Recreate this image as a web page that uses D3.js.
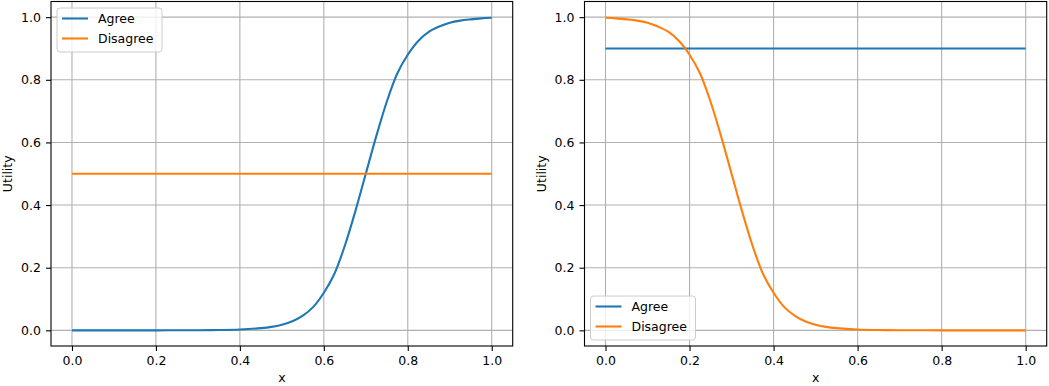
<!DOCTYPE html>
<html>
<head>
<meta charset="utf-8">
<script src="https://cdn.jsdelivr.net/npm/d3@7"></script>
<style>
  body { margin: 0; background: #fff; }
  svg text { font-family: "DejaVu Sans", sans-serif; fill: #000; }
</style>
</head>
<body>
<div id="chart"></div>
<script>
// values
const seriesNames = ['Agree', 'Disagree'];
const colors = ['#1f77b4', '#ff7f0e'];
const tickValues = [0, 0.2, 0.4, 0.6, 0.8, 1.0];

// left panel
const leftAgreeX = [0, 0.1, 0.2, 0.3, 0.35, 0.4, 0.45, 0.475, 0.5, 0.525, 0.55, 0.575, 0.6, 0.625, 0.65, 0.675, 0.7, 0.725, 0.75, 0.775, 0.8, 0.825, 0.85, 0.875, 0.9, 0.925, 0.95, 0.975, 1.0];
const leftAgreeY = [0, 0, 0, 0.0003, 0.0009, 0.0025, 0.007, 0.011, 0.018, 0.029, 0.047, 0.075, 0.12, 0.18, 0.27, 0.38, 0.5, 0.62, 0.73, 0.82, 0.88, 0.924, 0.953, 0.97, 0.982, 0.989, 0.993, 0.996, 0.998];
const leftDisagreeX = [0, 1.0];
const leftDisagreeY = [0.5, 0.5];

// right panel
const rightAgreeX = [0, 1.0];
const rightAgreeY = [0.9, 0.9];
const rightDisagreeX = [0, 0.025, 0.05, 0.075, 0.1, 0.125, 0.15, 0.175, 0.2, 0.225, 0.25, 0.275, 0.3, 0.325, 0.35, 0.375, 0.4, 0.425, 0.45, 0.475, 0.5, 0.525, 0.55, 0.6, 0.65, 0.7, 0.8, 0.9, 1.0];
const rightDisagreeY = [0.998, 0.996, 0.993, 0.989, 0.982, 0.97, 0.953, 0.924, 0.88, 0.82, 0.73, 0.62, 0.5, 0.38, 0.27, 0.18, 0.12, 0.075, 0.047, 0.029, 0.018, 0.011, 0.007, 0.0025, 0.0009, 0.0003, 0, 0, 0];

const W = 1049, H = 386;
const svg = d3.select('#chart').append('svg')
    .attr('width', W).attr('height', H);

const panels = [
    { left: 51, right: 512.7, legend: 'upper',
      series: [[leftAgreeX, leftAgreeY], [leftDisagreeX, leftDisagreeY]] },
    { left: 584.5, right: 1046.7, legend: 'lower',
      series: [[rightAgreeX, rightAgreeY], [rightDisagreeX, rightDisagreeY]] }
];
const plotTop = 1.5, plotBottom = 346;
const fontPx = '12.5px';

panels.forEach(p => {
    const x = d3.scaleLinear().domain([-0.05, 1.05]).range([p.left, p.right]);
    const y = d3.scaleLinear().domain([-0.05, 1.05]).range([plotBottom, plotTop]);
    const g = svg.append('g');

    // grid
    g.append('g').selectAll('line').data(tickValues).enter().append('line')
        .attr('x1', d => x(d)).attr('x2', d => x(d))
        .attr('y1', plotTop).attr('y2', plotBottom)
        .attr('stroke', '#b0b0b0').attr('stroke-width', 1.1);
    g.append('g').selectAll('line').data(tickValues).enter().append('line')
        .attr('y1', d => y(d)).attr('y2', d => y(d))
        .attr('x1', p.left).attr('x2', p.right)
        .attr('stroke', '#b0b0b0').attr('stroke-width', 1.1);

    // lines
    const line = d3.line()
        .x(d => x(d[0])).y(d => y(d[1]))
        .curve(d3.curveCatmullRom.alpha(0.5));
    p.series.forEach((s, i) => {
        const pts = s[0].map((v, k) => [v, s[1][k]]);
        g.append('path')
            .datum(pts)
            .attr('d', line)
            .attr('fill', 'none')
            .attr('stroke', colors[i])
            .attr('stroke-width', 2.1);
    });

    // axes
    const xAxis = d3.axisBottom(x).tickValues(tickValues)
        .tickFormat(d3.format('.1f')).tickSize(5).tickPadding(5);
    const yAxis = d3.axisLeft(y).tickValues(tickValues)
        .tickFormat(d3.format('.1f')).tickSize(5).tickPadding(5);
    const gx = g.append('g').attr('transform', `translate(0,${plotBottom})`).call(xAxis);
    const gy = g.append('g').attr('transform', `translate(${p.left},0)`).call(yAxis);
    [gx, gy].forEach(a => {
        a.select('.domain').remove();
        a.selectAll('line').attr('stroke', '#000').attr('stroke-width', 1.1);
        a.selectAll('text').style('font-size', fontPx).attr('fill', '#000');
    });

    // frame
    g.append('rect')
        .attr('x', p.left).attr('y', plotTop)
        .attr('width', p.right - p.left).attr('height', plotBottom - plotTop)
        .attr('fill', 'none').attr('stroke', '#000').attr('stroke-width', 1.1);

    // labels
    g.append('text')
        .attr('x', (p.left + p.right) / 2).attr('y', 382)
        .attr('text-anchor', 'middle').style('font-size', fontPx)
        .text('x');
    g.append('text')
        .attr('transform', `translate(${p.left - 39},${(plotTop + plotBottom) / 2}) rotate(-90)`)
        .attr('text-anchor', 'middle').style('font-size', fontPx)
        .text('Utility');

    // legend
    const lx = p.left + 6;
    const ly = p.legend === 'upper' ? plotTop + 6.5 : plotBottom - 50;
    const lg = g.append('g').attr('transform', `translate(${lx},${ly})`);
    lg.append('rect')
        .attr('width', 105).attr('height', 44).attr('rx', 3)
        .attr('fill', 'rgba(255,255,255,0.8)')
        .attr('stroke', '#cccccc').attr('stroke-width', 1);
    seriesNames.forEach((name, i) => {
        const cy = 10.5 + i * 20;
        lg.append('line')
            .attr('x1', 5).attr('x2', 31).attr('y1', cy).attr('y2', cy)
            .attr('stroke', colors[i]).attr('stroke-width', 2.1);
        lg.append('text')
            .attr('x', 41).attr('y', cy).attr('dy', '0.35em')
            .style('font-size', fontPx)
            .text(name);
    });
});
</script>
</body>
</html>
